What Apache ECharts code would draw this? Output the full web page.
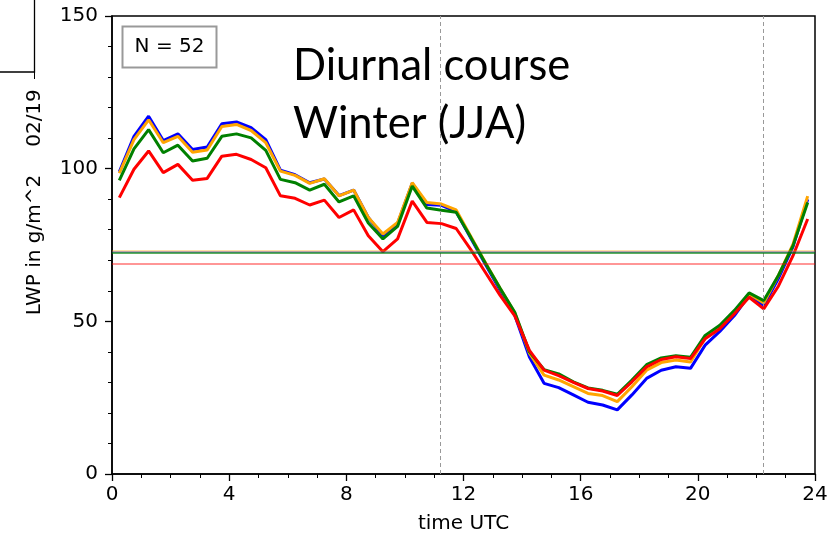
<!DOCTYPE html>
<html>
<head>
<meta charset="utf-8">
<style>
  html, body { margin: 0; padding: 0; background: #fff; }
  #chart { width: 832px; height: 539px; }
</style>
<script src="https://cdn.jsdelivr.net/npm/echarts@6/dist/echarts.min.js"></script>
</head>
<body>
<div id="chart"></div>
<script>
// Half-hourly bin centres (UTC hours)
const hours = [0.25, 0.75, 1.25, 1.75, 2.25, 2.75, 3.25, 3.75, 4.25, 4.75, 5.25, 5.75,
  6.25, 6.75, 7.25, 7.75, 8.25, 8.75, 9.25, 9.75, 10.25, 10.75, 11.25, 11.75,
  12.25, 12.75, 13.25, 13.75, 14.25, 14.75, 15.25, 15.75, 16.25, 16.75, 17.25, 17.75,
  18.25, 18.75, 19.25, 19.75, 20.25, 20.75, 21.25, 21.75, 22.25, 22.75, 23.25, 23.75];

// Liquid water path (g/m^2) per bin
const lwpBlue = [99, 110.6, 117.2, 109.2, 111.4, 106.3, 107.1, 114.7, 115.3, 113.4, 109.5, 99.5,
  98, 95.4, 96.6, 91.2, 93, 84, 78, 82, 95.2, 88.3, 88, 85.9,
  77.2, 68.6, 60.2, 52, 38.3, 29.7, 28.3, 25.9, 23.5, 22.6, 21, 25.9,
  31.3, 34, 35.1, 34.6, 42.2, 46.7, 51.9, 58.5, 55.2, 64, 74.5, 90];
const lwpOrange = [98.5, 109.5, 116, 108.5, 110.6, 105.4, 106.1, 113.8, 114.5, 112.5, 108.5, 99.2,
  97.8, 95.2, 96.7, 91.1, 93, 84, 78.6, 82.4, 95.4, 88.9, 88.4, 86.5,
  77.8, 69.2, 60.8, 52.8, 39.6, 32.4, 30.8, 28.6, 26.4, 25.7, 23.7, 28.6,
  34, 36.5, 37.3, 36.7, 44.5, 48, 53, 59, 56, 65, 75.3, 91];
const lwpGreen = [96.2, 106.5, 112.8, 105.2, 107.7, 102.5, 103.4, 110.6, 111.4, 110.1, 106, 96.5,
  95.4, 93, 94.9, 89.1, 91.1, 82.2, 77, 81.1, 94.3, 87.1, 86.4, 85.7,
  77.5, 69, 60.8, 53, 40, 34.2, 32.8, 30.2, 28.2, 27.4, 26.1, 30.8,
  35.8, 38, 38.7, 38.2, 45.4, 48.7, 53.6, 59.3, 56.8, 65, 74.8, 88.9];
const lwpRed = [90.5, 99.8, 105.8, 98.7, 101.4, 96.2, 96.8, 104.1, 104.7, 103, 100.3, 91.1,
  90.3, 88.1, 89.7, 84, 86.5, 78, 72.8, 77, 89.4, 82.4, 82, 80.4,
  73.5, 66, 58.5, 51.8, 40.5, 34, 32.2, 30, 28, 27.2, 25.7, 30.2,
  35.1, 37.5, 38.4, 37.8, 44.3, 47.6, 52.5, 57.9, 54.1, 61.5, 71.5, 83.5];

// Daily means of each series
const meanBlue = 72.7;
const meanOrange = 73.0;
const meanGreen = 72.4;
const meanRed = 68.8;

// Sunrise / sunset markers (UTC hours)
const markerHours = [11.2, 22.25];

const xTicks = [0, 4, 8, 12, 16, 20, 24];
const yTicks = [0, 50, 100, 150];

const FONT = 'DejaVu Sans';
const FS = 20;

function pairs(vals) { return hours.map((h, i) => [h, vals[i]]); }

function lineSeries(name, vals, color, mean, meanColor, extraMarks) {
  const markData = [{ yAxis: mean, lineStyle: { color: meanColor, width: 1.6, type: 'solid' } }];
  return {
    name: name,
    type: 'line',
    data: pairs(vals),
    symbol: 'none',
    lineStyle: { color: color, width: 3 },
    itemStyle: { color: color },
    animation: false,
    markLine: {
      silent: true,
      symbol: 'none',
      label: { show: false },
      animation: false,
      data: markData.concat(extraMarks || [])
    }
  };
}

const chart = echarts.init(document.getElementById('chart'), null, { renderer: 'canvas' });

const option = {
  backgroundColor: '#fff',
  animation: false,
  grid: {
    left: 112, right: 17, top: 16, bottom: 63,
    show: true, borderColor: '#000', borderWidth: 1.5, backgroundColor: 'transparent'
  },
  xAxis: {
    type: 'value', min: xTicks[0], max: xTicks[xTicks.length - 1], interval: 4,
    name: 'time UTC', nameLocation: 'middle', nameGap: 40,
    nameTextStyle: { fontFamily: FONT, fontSize: FS, color: '#000' },
    axisLine: { lineStyle: { color: '#000', width: 1.5 } },
    axisTick: { show: true, length: 7, lineStyle: { color: '#000', width: 1.3 } },
    minorTick: { show: true, splitNumber: 4, length: 4, lineStyle: { color: '#000', width: 1 } },
    axisLabel: { fontFamily: FONT, fontSize: FS, color: '#000', margin: 11 },
    splitLine: { show: false }
  },
  yAxis: {
    type: 'value', min: yTicks[0], max: yTicks[yTicks.length - 1], interval: 50,
    name: 'LWP in g/m^2', nameLocation: 'middle', nameGap: 67,
    nameTextStyle: { fontFamily: FONT, fontSize: FS, color: '#000' },
    axisLine: { show: true, lineStyle: { color: '#000', width: 1.5 } },
    axisTick: { show: true, length: 7, lineStyle: { color: '#000', width: 1.3 } },
    minorTick: { show: true, splitNumber: 5, length: 4, lineStyle: { color: '#000', width: 1 } },
    axisLabel: { fontFamily: FONT, fontSize: FS, color: '#000', margin: 14 },
    splitLine: { show: false }
  },
  series: [
    lineSeries('blue', lwpBlue, '#0000ff', meanBlue, 'rgba(0,0,255,0.5)',
      markerHours.map(h => ({ xAxis: h, lineStyle: { color: '#999', width: 1, type: [4, 3] } }))),
    lineSeries('orange', lwpOrange, '#ffa500', meanOrange, 'rgba(255,165,0,0.45)'),
    lineSeries('green', lwpGreen, '#008000', meanGreen, 'rgba(0,128,0,0.85)'),
    lineSeries('red', lwpRed, '#ff0000', meanRed, 'rgba(255,0,0,0.55)')
  ],
  graphic: [
    // leftover frame corner at top-left
    { type: 'polyline', shape: { points: [[0, 72], [34.5, 72], [34.5, 0]] },
      style: { stroke: '#000', lineWidth: 1.3, fill: null } },
    { type: 'line', shape: { x1: 34.5, y1: 72, x2: 34.5, y2: 79 },
      style: { stroke: '#000', lineWidth: 1 } },
    { type: 'text', x: 35, y: 118, rotation: Math.PI / 2,
      style: { text: '02/19', fontFamily: FONT, fontSize: FS, fill: '#000', align: 'center', verticalAlign: 'middle' } },
    // sample-size box
    { type: 'rect', shape: { x: 122.5, y: 26.5, width: 94, height: 41 },
      style: { fill: '#fff', stroke: '#999', lineWidth: 2 } },
    { type: 'text', x: 169.5, y: 47, style: { text: 'N = 52', fontFamily: FONT, fontSize: FS, fill: '#000', align: 'center', verticalAlign: 'middle' } },
    // title block
    { type: 'text', x: 293, y: 66, z: 10,
      style: { text: 'Diurnal course', fontFamily: 'Lato', fontSize: 43.5, fill: '#000', align: 'left', verticalAlign: 'middle' } },
    { type: 'text', x: 293, y: 124, z: 10,
      style: { text: 'Winter (JJA)', fontFamily: 'Lato', fontSize: 43.5, fill: '#000', align: 'left', verticalAlign: 'middle' } }
  ]
};

chart.setOption(option);
</script>
</body>
</html>
